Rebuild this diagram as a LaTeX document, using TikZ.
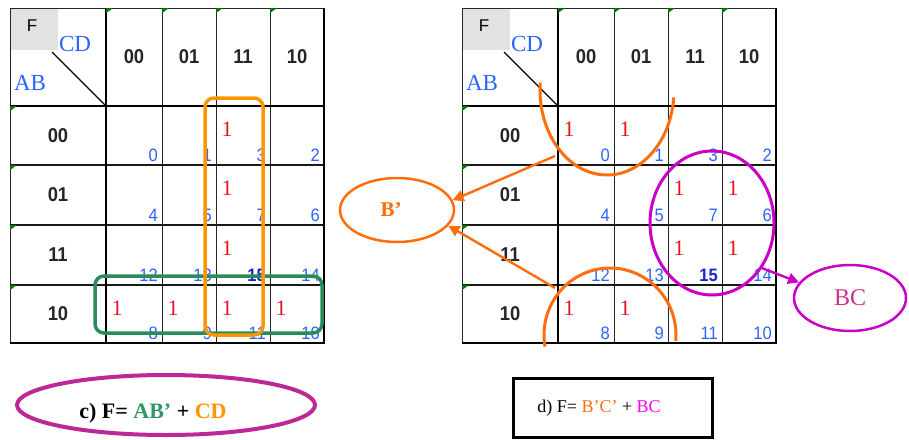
\documentclass[tikz,border=0pt]{standalone}
\usepackage{fontspec}
\setmainfont{Liberation Serif}
\newfontfamily\arialf{Liberation Sans}
\usetikzlibrary{arrows.meta,shapes.geometric}
\definecolor{kblue}{RGB}{45,100,255}
\definecolor{kdblue}{RGB}{20,40,210}
\definecolor{kred}{RGB}{235,20,30}
\definecolor{korange}{RGB}{255,150,0}
\definecolor{korange2}{RGB}{255,110,10}
\definecolor{kgreen}{RGB}{40,140,90}
\definecolor{kgreen2}{RGB}{50,150,100}
\definecolor{kmag}{RGB}{200,0,200}
\definecolor{kmag2}{RGB}{255,0,255}
\definecolor{kpinktext}{RGB}{200,50,140}
\definecolor{kpink}{RGB}{190,40,150}
\definecolor{ktri}{RGB}{0,120,0}
\definecolor{kgray}{RGB}{226,226,226}
\tikzset{
  hdr/.style={font=\arialf\bfseries\fontsize{20}{20}\selectfont, text=black!85, inner sep=0, xscale=0.92},
  one/.style={font=\fontsize{22}{22}\selectfont, text=kred, inner sep=0},
  idx/.style={font=\arialf\fontsize{18}{18}\selectfont, text=kblue, inner sep=0, anchor=south east, xscale=0.92},
  varlab/.style={font=\fontsize{23}{23}\selectfont, text=kblue, inner sep=0},
  gridthin/.style={line width=0.8pt, draw=black!85},
  gridmid/.style={line width=1.3pt, draw=black!90},
  gridthick/.style={line width=1.8pt, draw=black},
  loop/.style={line width=3.5pt, rounded corners=9pt},
  oarrow/.style={draw=korange2, line width=2.4pt, -{Triangle[length=11pt,width=11pt]}},
  marrow/.style={draw=kmag, line width=2.4pt, -{Triangle[length=11pt,width=11pt]}},
}
\newcommand\kmap[3]{%
\begin{scope}[xshift=#2]
  \fill[kgray] (10,8) rectangle (58,50);
  \draw[gridthin] (10,8) -- (324,8);
  \draw[gridthin] (10,8) -- (10,343);
  \foreach \xa in {162,216,270} {\draw[gridthin] (\xa,8) -- (\xa,343);}
  \foreach \ya in {165,225,285} {\draw[gridmid] (10,\ya) -- (324,\ya);}
  \draw[gridthick] (106,8) -- (106,343);
  \draw[gridthick] (10,106) -- (324,106);
  \draw[gridthick] (324,8) -- (324,343) -- (10,343);
  \foreach \xa in {106,162,216,270} {\fill[ktri] (\xa,8) -- ++(7,0) -- ++(-7,5) -- cycle;}
  \foreach \ya in {106,165,225,285} {\fill[ktri] (10,\ya) -- ++(7,0) -- ++(-7,5) -- cycle;}
  \node[font=\arialf\fontsize{17}{17}\selectfont, inner sep=0] (#1F) at (32,26) {F};
  \node[varlab] (#1CD) at (75,44) {CD};
  \node[varlab] (#1AB) at (30,83) {AB};
  \coordinate (#1dA) at (52,52);
  \coordinate (#1dB) at (106,106);
  \draw[line width=1.3pt] (#1dA) -- (#1dB);
  \foreach \xa/\lab in {134/00,189/01,243/11,297/10} {\node[hdr] (#1c\lab) at (\xa,57) {\lab};}
  \foreach \ya/\lab in {136/00,195/01,255/11,314/10} {\node[hdr] (#1r\lab) at (58,\ya) {\lab};}
  \foreach \xr/\yb/\n in {162/165/0,216/165/1,270/165/3,324/165/2,
                          162/225/4,216/225/5,270/225/7,324/225/6,
                          162/285/12,216/285/13,324/285/14,
                          162/343/8,216/343/9,270/343/11,324/343/10}
    {\node[idx] (#1n\n) at (\xr-4,\yb-3) {\n};}
  \node[idx, text=kdblue, font=\arialf\bfseries\fontsize{18}{18}\selectfont] (#1n15) at (266,282) {15};
  \foreach \xa/\ya in {#3} {\node[one] (#1o\xa-\ya) at (\xa+11,\ya+23) {1};}
\end{scope}}

\begin{document}
\begin{tikzpicture}[x=1pt,y=-1pt]
\useasboundingbox (0,0) rectangle (909,439);
\fill[white] (0,0) rectangle (909,439);

% ---- left map
\kmap{L}{0pt}{216/106,216/165,216/225,106/285,162/285,216/285,270/285}
\draw[kgreen, loop] (95,276) rectangle (322,333);
\draw[korange, loop] (205,98) rectangle (263,335);

% ---- right map
\kmap{R}{452pt}{106/106,162/106,216/165,270/165,216/225,270/225,106/285,162/285}
\draw[korange2, line width=3pt] (607,90) ++(175:67pt and 85pt)
  arc[start angle=175, end angle=355, x radius=67pt, y radius=85pt];
\draw[korange2, line width=3pt] (610,335) ++(190:66pt and 67pt)
  arc[start angle=190, end angle=-5, x radius=66pt, y radius=67pt];
\node[draw=kmag, line width=3pt, ellipse, inner sep=0, minimum width=124pt, minimum height=144pt] (grpBC) at (712,223) {};

% ---- B' and BC labels
\node[draw=korange2, line width=2.5pt, ellipse, inner sep=0, minimum width=114pt, minimum height=64pt,
      font=\bfseries\fontsize{21}{21}\selectfont, text=korange2] (Bp) at (397,210) {B'\hspace*{12pt}};
\node[draw=kmag, line width=2.5pt, ellipse, inner sep=0, minimum width=112pt, minimum height=66pt,
      font=\fontsize{24}{24}\selectfont, text=kpinktext] (BC) at (850,298) {BC};
\coordinate (arcT) at (555,156);
\coordinate (arcB) at (555,288);
\draw[oarrow] (arcT) -- (Bp.10);
\draw[oarrow] (arcB) -- (Bp.-17);
\draw[marrow] (grpBC.-42) -- (BC.163);

% ---- bottom formulas
\node[draw=kpink, line width=4pt, ellipse, inner sep=0, minimum width=298pt, minimum height=60pt] (cell) at (166,405) {};
\node[font=\bfseries\fontsize{22}{22}\selectfont, inner sep=0] (ctext) at (153,413)
  {c) F= \textcolor{kgreen2}{AB'} + \textcolor{korange}{CD}};
\node[draw=black, line width=3pt, inner sep=0, minimum width=199pt, minimum height=59pt] (dbox) at (612.5,407.5) {};
\node[font=\fontsize{18}{18}\selectfont, inner sep=0] (dtext) at (599,408)
  {d) F= \textcolor{korange2}{B'C'} + \textcolor{kmag2}{BC}};
\end{tikzpicture}
\end{document}
